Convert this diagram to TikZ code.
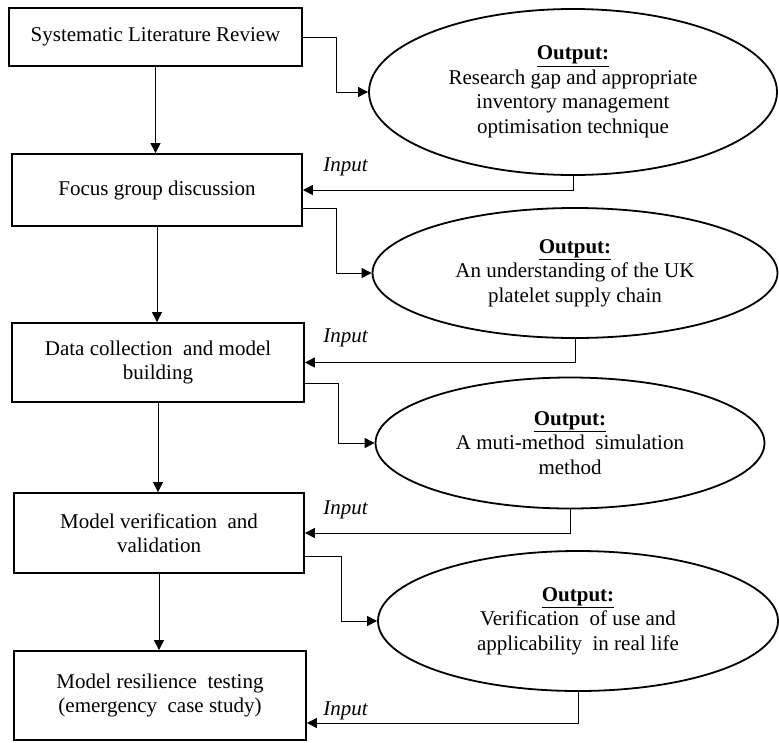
\documentclass[tikz,border=0pt]{standalone}
\usepackage{fontspec}
\setmainfont{Liberation Serif}
\usetikzlibrary{arrows.meta,shapes.geometric,calc}
\begin{document}
\begin{tikzpicture}[x=1pt,y=-1pt,
  font=\fontsize{21}{24.5}\selectfont,
  stepbox/.style={draw,line width=1.8pt,rectangle,inner sep=0pt,align=center},
  outell/.style={draw,line width=1.8pt,ellipse,inner sep=0pt,align=center},
  conn/.style={line width=1pt,-{Triangle[length=10pt,width=10pt]}},
  inlab/.style={font=\fontsize{21}{24.5}\selectfont\itshape,inner sep=0pt}]
\useasboundingbox (0,0) rectangle (779,742);

% process boxes
\node[stepbox,minimum width=293pt,minimum height=58pt] (b1) at (155.5,37) {Systematic Literature Review};
\node[stepbox,minimum width=290pt,minimum height=72pt] (b2) at (157,190) {Focus group discussion};
\node[stepbox,minimum width=292pt,minimum height=79pt] (b3) at (158,362.5) {Data collection\ \ and model\\building};
\node[stepbox,minimum width=290pt,minimum height=80pt] (b4) at (159,533) {Model verification\ \ and\\validation};
\node[stepbox,minimum width=292pt,minimum height=89pt] (b5) at (160,695.5) {Model resilience\ \ testing\\(emergency\ \ case study)};

% output ellipses
\node[outell,minimum width=408pt,minimum height=166pt] (e1) at (573,92) {\underline{\textbf{Output:}}\\Research gap and appropriate\\inventory management\\optimisation technique};
\node[outell,minimum width=405pt,minimum height=130pt] (e2) at (575,273) {\underline{\textbf{Output:}}\\An understanding of the UK\\platelet supply chain};
\node[outell,minimum width=389pt,minimum height=131pt] (e3) at (570,443) {\underline{\textbf{Output:}}\\A muti-method\ \ simulation\\method};
\node[outell,minimum width=400pt,minimum height=140pt] (e4) at (578,621) {\underline{\textbf{Output:}}\\Verification\ \ of use and\\applicability\ \ in real life};

% vertical flow
\draw[conn] (b1.south) -- (b1.south |- b2.north);
\draw[conn] (b2.south) -- (b2.south |- b3.north);
\draw[conn] (b3.south) -- (b3.south |- b4.north);
\draw[conn] (b4.south) -- (b4.south |- b5.north);

% box to output
\draw[conn] (b1.east) -| ($(e1.west)+(-32,0)$) -- (e1.west);
\draw[conn] ($(b2.east)+(0,18)$) -| ($(e2.west)+(-35,0)$) -- (e2.west);
\draw[conn] ($(b3.east)+(0,21)$) -| ($(e3.west)+(-36,0)$) -- (e3.west);
\draw[conn] ($(b4.east)+(0,23)$) -| ($(e4.west)+(-36,0)$) -- (e4.west);

% output to next box (input)
\draw[conn] (e1.south) |- (b2.east);
\draw[conn] (e2.south) |- (b3.east);
\draw[conn] (e3.south) |- (b4.east);
\draw[conn] (e4.south) |- ($(b5.east)+(0,27.5)$);

% input labels
\node[inlab] (i1) at (345.5,167) {Input};
\node[inlab] (i2) at (345.5,338) {Input};
\node[inlab] (i3) at (345.5,510) {Input};
\node[inlab] (i4) at (345.5,711) {Input};
\end{tikzpicture}
\end{document}
